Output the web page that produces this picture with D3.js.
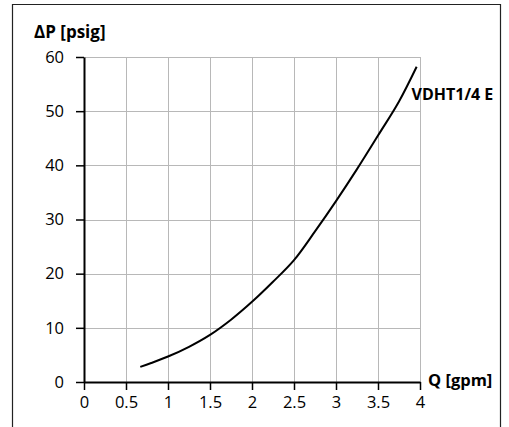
<!DOCTYPE html>
<html>
<head>
<meta charset="utf-8">
<script src="https://cdn.jsdelivr.net/npm/d3@7"></script>
<style>
  html, body { margin: 0; padding: 0; background: #fff; }
  svg { display: block; }
  text { font-family: "Open Sans", "Noto Sans", sans-serif; }
</style>
</head>
<body>
<svg id="chart" width="509" height="427"></svg>
<script>
// Data
const flowGpm = [0.67, 0.8, 1.0, 1.25, 1.5, 1.75, 2.0, 2.25, 2.5, 2.75, 3.0, 3.25, 3.5, 3.75, 3.96];
const pressurePsig = [2.8, 3.5, 4.7, 6.5, 8.7, 11.5, 14.8, 18.5, 22.5, 27.8, 33.4, 39.3, 45.5, 51.8, 58.2];
const xTicks = [0, 0.5, 1, 1.5, 2, 2.5, 3, 3.5, 4];
const yTicks = [0, 10, 20, 30, 40, 50, 60];
const seriesName = "VDHT1/4 E";
const xTitle = "Q [gpm]";
const yTitle = "ΔP [psig]";

const svg = d3.select("#chart");
const margin = { left: 84, right: 89, top: 57, bottom: 45 };
const W = 509, H = 427;

const x = d3.scaleLinear().domain([0, 4]).range([margin.left, W - margin.right]);
const y = d3.scaleLinear().domain([0, 60]).range([H - margin.bottom, margin.top]);

// outer frame (open at bottom)
svg.append("path")
  .attr("d", `M12.5,${H} V4.5 H500.5 V${H}`)
  .attr("fill", "none")
  .attr("stroke", "#222")
  .attr("stroke-width", 1.2);

// grid
const grid = svg.append("g").attr("stroke", "#b8b8b8").attr("stroke-width", 1);
grid.selectAll("line.v").data(xTicks.filter(d => d > 0)).join("line")
  .attr("x1", d => Math.round(x(d)) + 0.5).attr("x2", d => Math.round(x(d)) + 0.5)
  .attr("y1", y(60)).attr("y2", y(0));
grid.selectAll("line.h").data(yTicks.filter(d => d > 0)).join("line")
  .attr("y1", d => Math.round(y(d)) + 0.5).attr("y2", d => Math.round(y(d)) + 0.5)
  .attr("x1", x(0)).attr("x2", x(4));

// axes
const xAxis = d3.axisBottom(x).tickValues(xTicks).tickFormat(d3.format("")).tickSize(8).tickPadding(6).tickSizeOuter(0);
const yAxis = d3.axisLeft(y).tickValues(yTicks).tickFormat(d3.format("")).tickSize(8).tickPadding(12).tickSizeOuter(0);

const gx = svg.append("g").attr("transform", `translate(0,${y(0)})`).call(xAxis);
const gy = svg.append("g").attr("transform", `translate(${x(0)},0)`).call(yAxis);

[gx, gy].forEach(g => {
  g.select(".domain").attr("stroke", "#000").attr("stroke-width", 2);
  g.selectAll(".tick line").attr("stroke", "#000").attr("stroke-width", 1.5);
  g.selectAll(".tick text").attr("fill", "#000").style("font-size", "16.5px")
    .style("font-family", '"Open Sans", "Noto Sans", sans-serif');
});

// curve
const pts = flowGpm.map((q, i) => [q, pressurePsig[i]]);
const line = d3.line().x(d => x(d[0])).y(d => y(d[1])).curve(d3.curveCatmullRom.alpha(0.5));
svg.append("path")
  .datum(pts)
  .attr("d", line)
  .attr("fill", "none")
  .attr("stroke", "#000")
  .attr("stroke-width", 2);

// labels
svg.append("text").attr("x", 34).attr("y", 37.5)
  .style("font-size", "17px").style("font-weight", "bold").text(yTitle);
svg.append("text").attr("x", 428).attr("y", 386)
  .style("font-size", "16.5px").style("font-weight", "bold").text(xTitle);
svg.append("text").attr("x", 411.5).attr("y", 100)
  .style("font-size", "16px").style("font-weight", "bold").text(seriesName);
</script>
</body>
</html>
